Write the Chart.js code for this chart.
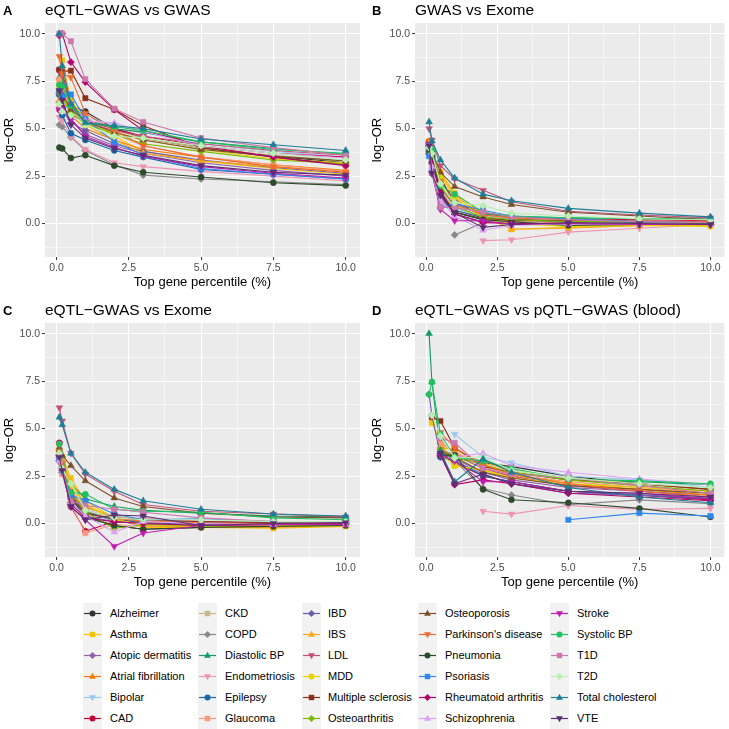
<!DOCTYPE html>
<html>
<head>
<meta charset="utf-8">
<script src="https://cdn.jsdelivr.net/npm/chart.js@4.4.0/dist/chart.umd.min.js"></script>
<style>
    body { margin: 0; background: #fff; }
    #wrap { position: relative; width: 729px; height: 729px; overflow: hidden; font-family: "Liberation Sans", Arial, sans-serif; }
    #wrap canvas { position: absolute; }
    .keystrip { position: absolute; background: #F2F2F2; }
    .keysvg { position: absolute; }
    .lab { position: absolute; font-size: 11px; color: #000; line-height: 21px; white-space: nowrap; }
</style>
</head>
<body>
<div id="wrap">
    <canvas id="pA" width="365" height="290" style="left:0;top:0"></canvas>
    <canvas id="pB" width="364" height="290" style="left:365px;top:0"></canvas>
    <canvas id="pC" width="365" height="290" style="left:0;top:300px"></canvas>
    <canvas id="pD" width="364" height="290" style="left:365px;top:300px"></canvas>
    <div id="legend"></div>
</div>
<script>
// Data
const percentiles = [0.1, 0.2, 0.5, 1, 2, 3, 5, 7.5, 10];
const xTicks = [0, 1.25, 2.5, 3.75, 5, 6.25, 7.5, 8.75, 10];
const yTicks = [-1.25, 0, 1.25, 2.5, 3.75, 5, 6.25, 7.5, 8.75, 10];

const traits = [
    'Alzheimer', 'Asthma', 'Atopic dermatitis', 'Atrial fibrillation', 'Bipolar', 'CAD',
    'CKD', 'COPD', 'Diastolic BP', 'Endometriosis', 'Epilepsy', 'Glaucoma',
    'IBD', 'IBS', 'LDL', 'MDD', 'Multiple sclerosis', 'Osteoarthritis',
    'Osteoporosis', "Parkinson's disease", 'Pneumonia', 'Psoriasis', 'Rheumatoid arthritis', 'Schizophrenia',
    'Stroke', 'Systolic BP', 'T1D', 'T2D', 'Total cholesterol', 'VTE'
];

// log-OR per trait, one row per trait in the order above
const eqtlVsGwas = [
    [8.1, 7.9, 6.2, 5.9, 5.0, 4.5, 4.0, 3.55, 3.2],
    [7.2, 8.6, 6.5, 5.5, 4.6, 3.8, 3.3, 2.9, 2.6],
    [6.8, 6.1, 5.5, 4.7, 4.1, 3.7, 3.2, 2.8, 2.5],
    [6.2, 6.8, 5.7, 5.0, 4.4, 3.9, 3.5, 3.1, 2.8],
    [6.6, 6.3, 6.0, 5.6, 5.2, 4.8, 4.2, 3.8, 3.5],
    [6.0, 6.1, 5.7, 5.4, 5.0, 4.6, 4.1, 3.7, 3.5],
    [7.4, 6.9, 6.0, 5.3, 4.9, 4.5, 4.0, 3.6, 3.3],
    [5.2, 5.1, 4.55, 3.85, 3.1, 2.55, 2.35, 2.2, 2.05],
    [7.7, 7.4, 6.3, 5.5, 5.0, 4.8, 4.3, 3.95, 3.65],
    [5.6, 5.4, 4.6, 3.9, 3.2, 3.0, 2.75, 2.5, 2.25],
    [6.8, 5.7, 4.75, 4.4, 3.85, 3.5, 2.85, 2.6, 2.35],
    [7.6, 7.0, 6.1, 5.6, 4.7, 4.1, 3.5, 3.1, 2.75],
    [6.4, 6.0, 5.3, 4.9, 4.2, 3.8, 3.35, 2.95, 2.65],
    [6.5, 8.3, 6.4, 5.2, 4.4, 3.7, 3.3, 3.0, 2.7],
    [8.0, 7.8, 6.3, 5.3, 4.9, 4.6, 4.2, 3.85, 3.6],
    [7.0, 6.8, 5.9, 5.2, 4.8, 4.4, 3.9, 3.4, 3.2],
    [8.1, 8.0, 8.05, 6.6, 6.0, 5.15, 4.0, 3.5, 3.1],
    [6.9, 6.6, 5.8, 5.3, 4.7, 4.2, 3.8, 3.35, 3.15],
    [7.0, 6.8, 6.0, 5.4, 4.8, 4.4, 3.9, 3.55, 3.3],
    [8.8, 7.9, 7.7, 5.8, 4.9, 4.1, 3.5, 3.0, 2.7],
    [4.0, 3.95, 3.45, 3.6, 3.05, 2.7, 2.45, 2.15, 2.0],
    [7.0, 6.7, 6.8, 5.5, 4.3, 3.6, 2.9, 2.6, 2.35],
    [9.9, 10.0, 8.5, 7.45, 6.0, 4.9, 4.1, 3.5, 3.05],
    [6.1, 5.9, 5.6, 5.4, 5.3, 4.85, 4.1, 3.7, 3.45],
    [6.0, 6.0, 5.5, 4.6, 4.0, 3.55, 3.0, 2.65, 2.4],
    [7.3, 7.2, 6.2, 5.3, 5.1, 4.9, 4.3, 3.9, 3.7],
    [10.0, 10.0, 9.6, 7.6, 6.05, 5.35, 4.5, 4.0, 3.6],
    [6.3, 5.9, 5.7, 5.2, 4.6, 4.5, 4.1, 3.7, 3.35],
    [10.0, 8.3, 6.3, 5.3, 5.15, 5.0, 4.45, 4.15, 3.85],
    [7.0, 6.5, 5.2, 4.5, 3.95, 3.6, 3.05, 2.7, 2.55]
];

const gwasVsExome = [
    [3.8, 3.7, 1.5, 0.6, 0.2, 0.15, 0.1, 0.05, 0.05],
    [4.35, 3.4, 2.7, 1.6, 0.5, -0.3, -0.2, -0.1, -0.1],
    [4.0, 3.6, 1.9, 0.9, 0.3, 0.2, 0.1, 0.05, 0.0],
    [3.9, 3.7, 2.2, 1.3, 0.45, 0.25, 0.15, 0.1, 0.1],
    [3.6, 3.0, 1.0, 0.8, 0.4, 0.3, 0.2, 0.15, 0.1],
    [4.3, 3.8, 2.4, 1.1, 0.55, 0.35, 0.25, 0.2, 0.15],
    [3.9, 3.5, 1.8, 0.7, 0.35, 0.25, 0.2, 0.1, 0.1],
    [null, null, null, -0.6, 0.05, 0.1, 0.05, 0.0, 0.0],
    [3.8, 3.85, 2.3, 1.0, 0.5, 0.35, 0.3, 0.25, 0.3],
    [null, null, null, null, -0.9, -0.85, -0.45, -0.25, -0.05],
    [3.7, 3.3, 1.3, 0.7, 0.3, 0.2, 0.1, 0.05, 0.0],
    [4.0, 3.2, 1.2, 0.6, 0.25, 0.1, 0.05, 0.0, 0.0],
    [4.1, 3.5, 1.4, 0.5, 0.1, 0.0, 0.0, -0.05, -0.05],
    [4.3, 3.6, 2.6, 1.5, 0.4, -0.3, -0.25, -0.1, -0.1],
    [5.0, 4.4, 3.05, 2.35, 1.75, 1.15, 0.65, 0.45, 0.3],
    [4.2, 3.5, 2.5, 1.4, 0.3, 0.0, -0.15, -0.1, -0.15],
    [4.1, 3.6, 1.7, 0.6, 0.25, 0.2, 0.15, 0.1, 0.1],
    [3.9, 3.4, 2.0, 0.9, 0.35, 0.2, 0.1, 0.1, 0.05],
    [3.75, 3.8, 2.7, 1.95, 1.4, 1.0, 0.6, 0.4, 0.2],
    [4.2, 3.9, 2.2, 1.0, 0.45, 0.3, 0.2, 0.15, 0.1],
    [3.9, 3.5, 1.6, 0.6, 0.2, 0.1, -0.1, -0.05, 0.0],
    [3.55, 2.7, 0.85, 1.05, 0.7, 0.4, 0.25, 0.1, 0.05],
    [4.1, 3.2, 1.6, 0.5, 0.05, 0.0, 0.0, -0.05, -0.05],
    [4.0, 3.0, 1.2, 0.4, -0.35, -0.1, 0.0, -0.05, -0.05],
    [4.2, 2.65, 0.75, 0.15, 0.15, -0.05, 0.0, -0.05, -0.05],
    [4.0, 3.9, 2.0, 1.55, 0.6, 0.4, 0.3, 0.25, 0.2],
    [4.1, 2.65, 0.85, 0.85, 0.6, 0.35, 0.2, 0.1, 0.05],
    [4.0, 3.7, 2.1, 1.1, 0.95, 0.55, 0.4, 0.25, 0.2],
    [5.35, 4.35, 3.35, 2.4, 1.55, 1.2, 0.8, 0.55, 0.35],
    [4.1, 2.65, 1.5, 0.55, -0.2, -0.05, 0.05, 0.0, -0.05]
];

const eqtlVsExome = [
    [3.6, 3.0, 1.6, 0.4, -0.1, -0.3, -0.2, -0.15, -0.05],
    [4.2, 3.5, 2.4, 1.2, 0.3, -0.2, -0.2, -0.25, -0.15],
    [3.5, 2.9, 1.4, 0.6, 0.2, 0.1, 0.0, 0.0, 0.0],
    [3.8, 3.2, 1.9, 0.9, 0.35, 0.15, 0.05, 0.05, 0.1],
    [3.4, 2.8, 1.2, 0.7, 0.3, 0.2, 0.1, 0.05, 0.05],
    [4.25, 2.8, 0.9, -0.4, 0.1, 0.0, -0.1, -0.1, 0.0],
    [3.7, 3.1, 1.7, 0.8, 0.4, 0.2, 0.1, 0.05, 0.05],
    [3.3, 2.7, 1.5, 0.7, 0.1, 0.0, -0.1, -0.05, 0.0],
    [3.9, 3.3, 2.1, 1.3, 0.9, 0.7, 0.55, 0.4, 0.35],
    [3.2, 2.6, 1.2, 0.5, 0.2, 0.3, 0.1, 0.05, 0.05],
    [3.5, 2.9, 1.3, 0.6, 0.2, 0.05, -0.05, 0.0, 0.0],
    [3.6, 2.6, 1.0, -0.5, -0.05, -0.15, -0.15, -0.1, -0.05],
    [3.3, 2.7, 1.0, 0.4, 0.1, 0.0, -0.05, 0.0, 0.0],
    [3.8, 3.3, 2.2, 1.0, 0.25, -0.1, -0.2, -0.2, -0.1],
    [6.1, 5.4, 3.7, 2.6, 1.7, 1.0, 0.65, 0.5, 0.35],
    [3.9, 3.2, 2.0, 1.0, 0.2, -0.05, -0.15, -0.15, -0.1],
    [3.7, 3.0, 1.5, 0.5, 0.3, 0.2, 0.1, 0.05, 0.1],
    [3.6, 3.1, 1.6, 0.6, -0.25, -0.05, -0.1, -0.05, 0.0],
    [4.0, 3.6, 3.05, 2.25, 1.35, 0.9, 0.55, 0.35, 0.3],
    [3.8, 3.2, 1.7, 0.7, 0.3, 0.1, 0.0, 0.0, 0.05],
    [3.5, 2.8, 1.4, 0.3, -0.1, -0.3, -0.2, -0.15, -0.1],
    [3.4, 2.8, 1.5, 1.2, 0.5, 0.2, 0.25, 0.1, 0.1],
    [3.6, 2.8, 1.1, 0.3, 0.1, 0.0, -0.1, -0.05, 0.0],
    [3.3, 2.7, 1.1, 0.4, -0.45, 0.1, 0.0, -0.05, -0.05],
    [4.2, 2.8, 0.9, 0.2, -1.2, -0.5, -0.1, -0.05, -0.05],
    [4.2, 2.8, 1.65, 1.55, 0.75, 0.65, 0.6, 0.3, 0.2],
    [3.6, 2.9, 1.2, 0.95, 0.75, 0.6, 0.3, 0.1, 0.05],
    [3.7, 2.9, 2.1, 0.7, 0.3, 0.2, 0.2, 0.1, 0.1],
    [5.6, 5.2, 3.7, 2.7, 1.8, 1.2, 0.75, 0.5, 0.4],
    [3.5, 2.8, 0.9, 0.2, 0.45, 0.4, -0.1, 0.0, 0.05]
];

const eqtlVsPqtl = [
    [null, null, 3.6, 3.5, 3.2, 3.0, 2.5, 2.1, 1.8],
    [null, 5.3, 4.3, 3.05, 2.8, 2.5, 2.2, 1.9, 1.6],
    [null, null, 3.7, 3.4, 2.7, 2.3, 1.9, 1.7, 1.5],
    [null, null, 4.3, 3.7, 3.0, 2.6, 2.1, 1.8, 1.5],
    [null, null, null, 4.7, 3.5, 3.2, 2.5, 2.3, 1.9],
    [null, null, 3.7, 3.2, 2.5, 2.2, 1.7, 1.5, 1.25],
    [null, null, 3.8, 3.6, 3.1, 2.7, 2.3, 2.0, 1.7],
    [null, null, 3.5, 3.3, 1.85, 1.5, 1.0, 1.25, 1.05],
    [10.0, 7.45, 3.8, 3.4, 3.3, 2.85, 2.3, 2.2, 2.05],
    [null, null, null, null, 0.65, 0.5, 0.95, 0.75, 0.8],
    [null, null, 3.5, 3.3, 2.5, 2.2, 1.7, 1.5, 1.3],
    [null, null, 4.2, 3.8, 3.0, 2.6, 2.2, 1.9, 1.6],
    [6.8, 5.7, 3.6, 3.3, 2.6, 2.1, 1.6, 1.5, 1.35],
    [null, null, 4.0, 3.9, 3.2, 2.8, 2.4, 2.1, 1.8],
    [null, null, 3.9, 3.6, 2.9, 2.5, 2.0, 1.7, 1.4],
    [null, null, 3.7, 3.05, 2.8, 2.4, 2.1, 1.9, 1.7],
    [null, 5.6, 5.4, 4.0, 3.0, 2.7, 2.3, 2.1, 1.8],
    [null, null, 3.9, 3.5, 3.1, 2.7, 2.3, 2.0, 1.7],
    [null, null, 3.8, 3.5, 2.7, 2.4, 2.0, 1.8, 1.6],
    [null, null, 4.8, 4.0, 3.1, 2.6, 2.1, 1.7, 1.4],
    [null, null, 3.6, 3.6, 1.8, 1.25, 1.1, 0.8, 0.35],
    [null, null, null, null, null, null, 0.2, 0.55, 0.4],
    [null, null, 3.6, 2.05, 2.3, 2.1, 1.6, 1.4, 1.2],
    [null, null, null, 3.5, 3.7, 3.05, 2.7, 2.35, 2.05],
    [null, null, 3.6, 3.3, 2.2, 2.2, 1.7, 1.6, 1.3],
    [6.8, 7.45, 4.7, 3.5, 3.3, 2.9, 2.35, 2.25, 2.1],
    [null, null, 4.5, 4.25, 2.9, 2.6, 2.4, 2.0, 1.6],
    [null, 5.7, 4.6, 3.45, 3.5, 2.8, 2.4, 2.1, 1.9],
    [null, null, 3.8, 2.2, 3.4, 2.7, 1.9, 1.4, 1.1],
    [null, null, 3.7, 2.1, 2.6, 2.1, 1.7, 1.6, 1.4]
];

// Styles
const traitColors = [
    '#333333', '#F5C400', '#9060A8', '#F57C00', '#9DC8EE', '#C8003A',
    '#C8B88A', '#8A8A8A', '#129A62', '#EE94B4', '#1767A8', '#F99A7C',
    '#6E5BAE', '#F8A81C', '#C4507A', '#E6D200', '#8B2E1A', '#7FB800',
    '#7A5028', '#F26A30', '#2C4A2C', '#2E86F0', '#B3006A', '#DDA0F5',
    '#C01CB0', '#22C060', '#CC78AC', '#B8F0B4', '#1E7E96', '#5C2E72'
];
const shapeCycle = ['circle', 'square', 'diamond', 'up', 'down'];

Chart.defaults.font.family = '"Liberation Sans", Arial, sans-serif';

const isMajor = v => Math.abs(v / 2.5 - Math.round(v / 2.5)) < 1e-6;

function pointOpts(shape) {
    switch (shape) {
        case 'circle': return { pointStyle: 'circle', pointRadius: 3, pointRotation: 0 };
        case 'square': return { pointStyle: 'rect', pointRadius: 3.7, pointRotation: 0 };
        case 'diamond': return { pointStyle: 'rectRot', pointRadius: 3.6, pointRotation: 0 };
        case 'up': return { pointStyle: 'triangle', pointRadius: 3.9, pointRotation: 0 };
        default: return { pointStyle: 'triangle', pointRadius: 3.9, pointRotation: 180 };
    }
}

// Grey panel background, letter and title
const panelDecor = {
    id: 'panelDecor',
    beforeDraw(chart) {
        const { ctx, chartArea: a } = chart;
        ctx.save();
        ctx.fillStyle = '#EBEBEB';
        ctx.fillRect(a.left, a.top, a.right - a.left, a.bottom - a.top);
        ctx.restore();
    },
    afterDraw(chart, args, o) {
        const ctx = chart.ctx;
        ctx.save();
        ctx.fillStyle = '#000';
        ctx.textBaseline = 'alphabetic';
        ctx.font = 'bold 13px "Liberation Sans", Arial, sans-serif';
        ctx.fillText(o.letter, o.letterX, o.baseline);
        ctx.font = '15.5px "Liberation Sans", Arial, sans-serif';
        ctx.fillText(o.title, chart.chartArea.left, o.baseline);
        ctx.restore();
    }
};

function makePanel(id, letter, title, values, layout) {
    const datasets = traits.map((name, i) => {
        const col = traitColors[i];
        return Object.assign({
            label: name,
            data: percentiles.map((x, j) => ({ x, y: values[i][j] })),
            borderColor: col,
            backgroundColor: col,
            pointBackgroundColor: col,
            pointBorderColor: col,
            pointBorderWidth: 0.5,
            borderWidth: 1.1,
            tension: 0,
            spanGaps: false,
            order: traits.length - i   // later traits on top, like ggplot
        }, pointOpts(shapeCycle[i % 5]));
    });

    const gridOpts = {
        color: '#FFFFFF',
        lineWidth: ctx => (ctx.tick && isMajor(ctx.tick.value)) ? 1.1 : 0.5,
        drawTicks: true,
        tickLength: 3,
        tickWidth: 1,
        tickColor: ctx => (ctx.tick && isMajor(ctx.tick.value)) ? '#333333' : 'rgba(0,0,0,0)'
    };
    const tickOpts = {
        color: '#4D4D4D',
        font: { size: 10.5 },
        autoSkip: false,
        maxRotation: 0,
        padding: 2,
        callback: v => isMajor(v) ? v.toFixed(1) : ''
    };

    return new Chart(document.getElementById(id), {
        type: 'line',
        data: { datasets },
        options: {
            responsive: false,
            animation: false,
            events: [],
            devicePixelRatio: 1,
            layout: { padding: { top: 23, right: layout.right, left: 0, bottom: 0 } },
            plugins: {
                legend: { display: false },
                tooltip: { enabled: false },
                panelDecor: { letter, title, letterX: layout.letterX, baseline: 14.5 }
            },
            scales: {
                x: {
                    type: 'linear',
                    min: -0.395,
                    max: 10.495,
                    afterBuildTicks: s => { s.ticks = xTicks.map(v => ({ value: v })); },
                    afterFit: s => { s.height = 33; },
                    grid: gridOpts,
                    border: { display: false },
                    ticks: tickOpts,
                    title: { display: true, text: 'Top gene percentile (%)', color: '#000', font: { size: 13 }, padding: { top: 0, bottom: 0 } }
                },
                y: {
                    type: 'linear',
                    min: -1.76,
                    max: 10.56,
                    afterBuildTicks: s => { s.ticks = yTicks.map(v => ({ value: v })); },
                    afterFit: s => { s.width = layout.left; },
                    grid: gridOpts,
                    border: { display: false },
                    ticks: tickOpts,
                    title: { display: true, text: 'log−OR', color: '#000', font: { size: 13 }, padding: { top: layout.yTitlePad, bottom: 0 } }
                }
            }
        },
        plugins: [panelDecor]
    });
}

makePanel('pA', 'A', 'eQTL−GWAS vs GWAS', eqtlVsGwas, { left: 45, right: 5, letterX: 3, yTitlePad: 1.2 });
makePanel('pB', 'B', 'GWAS vs Exome', gwasVsExome, { left: 50, right: 1, letterX: 7, yTitlePad: 4.7 });
makePanel('pC', 'C', 'eQTL−GWAS vs Exome', eqtlVsExome, { left: 45, right: 5, letterX: 3, yTitlePad: 1.2 });
makePanel('pD', 'D', 'eQTL−GWAS vs pQTL−GWAS (blood)', eqtlVsPqtl, { left: 50, right: 1, letterX: 7, yTitlePad: 4.7 });

// Legend
function markerSvg(shape, color) {
    const cx = 9.5, cy = 10.5;
    let mark;
    if (shape === 'circle') mark = `<circle cx="${cx}" cy="${cy}" r="3" fill="${color}"/>`;
    else if (shape === 'square') mark = `<rect x="${cx - 2.7}" y="${cy - 2.7}" width="5.4" height="5.4" fill="${color}"/>`;
    else if (shape === 'diamond') mark = `<polygon points="${cx},${cy - 3.6} ${cx + 3.6},${cy} ${cx},${cy + 3.6} ${cx - 3.6},${cy}" fill="${color}"/>`;
    else if (shape === 'up') mark = `<polygon points="${cx},${cy - 3.8} ${cx + 3.4},${cy + 2.2} ${cx - 3.4},${cy + 2.2}" fill="${color}"/>`;
    else mark = `<polygon points="${cx},${cy + 3.8} ${cx + 3.4},${cy - 2.2} ${cx - 3.4},${cy - 2.2}" fill="${color}"/>`;
    return `<svg width="19" height="21" viewBox="0 0 19 21"><line x1="1" y1="${cy}" x2="18" y2="${cy}" stroke="${color}" stroke-width="1.2"/>${mark}</svg>`;
}

const keyX = [83, 198, 302, 418, 550];
const textX = [110, 225, 328, 445, 577];
const legendTop = 603;
const legend = document.getElementById('legend');
let html = '';
keyX.forEach(x => {
    html += `<div class="keystrip" style="left:${x}px;top:${legendTop}px;width:19px;height:126px"></div>`;
});
traits.forEach((name, i) => {
    const col = Math.floor(i / 6), row = i % 6;
    const top = legendTop + row * 21;
    html += `<div class="keysvg" style="left:${keyX[col]}px;top:${top}px">${markerSvg(shapeCycle[i % 5], traitColors[i])}</div>`;
    html += `<div class="lab" style="left:${textX[col]}px;top:${top}px">${name}</div>`;
});
legend.innerHTML = html;
</script>
</body>
</html>
